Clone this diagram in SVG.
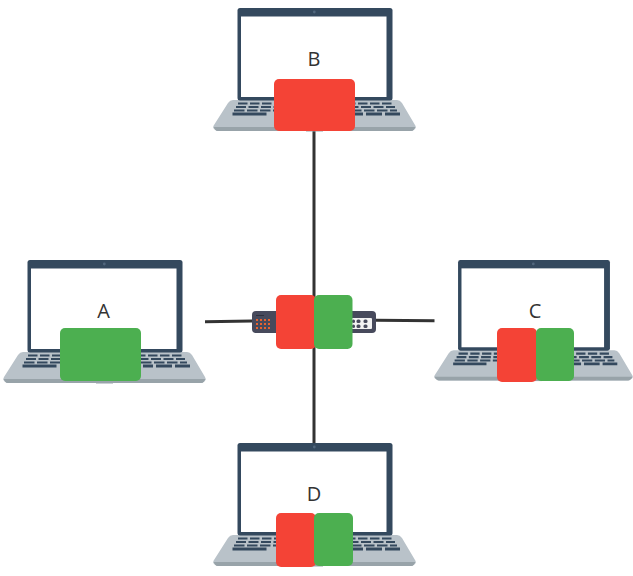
<svg xmlns="http://www.w3.org/2000/svg" width="633" height="576" viewBox="0 0 633 576">
<style>
.lbl{font-family:"Open Sans","Liberation Sans",sans-serif;font-size:20px;fill:#333;text-anchor:middle}
.red{fill:#F44336}.green{fill:#4CAF50}
.wire{fill:none;stroke:#333;stroke-width:3}
.port{fill:#474A5C}
</style>
<defs>
<g id="laptop">
<path d="M233 100H397Q400 100 402 103L415 125Q416.500 127 415 129L412 131H217L214 129Q212.500 127 214 125L228 103Q230 100 233 100Z" fill="#B9C2C9"/>
<path d="M213.500 127H415.500L414 129.500Q413 131 411 131H218Q216 131 215 129.500Z" fill="#98A3A9"/>
<rect x="237.500" y="8" width="155" height="92.500" rx="2.500" fill="#34495E"/>
<rect x="241" y="16.500" width="145.500" height="80.500" fill="#fff"/>
<circle cx="314.300" cy="12" r="1.400" fill="#51677D"/>
<g fill="none" stroke="#34495E" stroke-width="2.200">
<path d="M238 103.500H393" stroke-dasharray="9.500 2.500"/>
<path d="M236 107H395" stroke-dasharray="10 2.500"/>
<path d="M234 110.500H397" stroke-dasharray="10.500 2.500"/>
<path d="M232.500 114H266.500M353 114H363M366 114H382M385 114H400" stroke-width="2.800"/>
</g>
<rect x="306" y="129" width="17" height="2.500" fill="#98A3A9"/>
</g>
</defs>
<g id="connectors">
<path class="wire" d="M205 321.800L252 321"/>
<path class="wire" d="M376 320.200L434.500 320.800"/>
<path class="wire" d="M314 131V443"/>
</g>
<g id="switch">
<rect x="252" y="311" width="124" height="22" rx="4" fill="#474A5C"/>
<path d="M256 315.500H264" stroke="#2E303D" stroke-width="1"/>
<g fill="#E8622F">
<rect x="256" y="319" width="2" height="2"/><rect x="260" y="319" width="2" height="2"/><rect x="264" y="319" width="2" height="2"/><rect x="268" y="319" width="2" height="2"/>
<rect x="256" y="323" width="2" height="2"/><rect x="260" y="323" width="2" height="2"/><rect x="264" y="323" width="2" height="2"/><rect x="268" y="323" width="2" height="2"/>
<rect x="256" y="327" width="2" height="2"/><rect x="260" y="327" width="2" height="2"/><rect x="264" y="327" width="2" height="2"/><rect x="268" y="327" width="2" height="2"/>
</g>
<rect x="350" y="318" width="22" height="11" rx="1" fill="#F2F2F2"/>
<rect class="port" x="352" y="319.500" width="3" height="3.500" rx="1.500"/><rect class="port" x="352" y="324.500" width="3" height="3.500" rx="1.500"/>
<rect class="port" x="356.500" y="319.500" width="4" height="3.500" rx="1.500"/><rect class="port" x="356.500" y="324.500" width="4" height="3.500" rx="1.500"/>
<rect class="port" x="363.500" y="319.500" width="4" height="3.500" rx="1.500"/><rect class="port" x="363.500" y="324.500" width="4" height="3.500" rx="1.500"/>
</g>
<g id="node-b">
<use href="#laptop"/>
<text class="lbl" x="314" y="66">B</text>
<rect class="red" x="274" y="79" width="81" height="52" rx="5"/>
</g>
<g id="node-a">
<use href="#laptop" x="-210" y="252"/>
<text class="lbl" x="103.500" y="318">A</text>
<rect class="green" x="60" y="328" width="81" height="53" rx="5"/>
</g>
<g id="node-c">
<use href="#laptop" transform="translate(225.300 252.200) scale(.98)"/>
<text class="lbl" x="535" y="318">C</text>
<rect class="red" x="497" y="328" width="40" height="54" rx="5"/>
<rect class="green" x="536" y="328" width="38" height="53" rx="5"/>
</g>
<g id="node-d">
<use href="#laptop" y="435"/>
<text class="lbl" x="314" y="501">D</text>
<rect class="red" x="276" y="513" width="40" height="54" rx="5"/>
<rect class="green" x="314" y="513" width="39" height="53" rx="5"/>
</g>
<g id="node-switch-status">
<rect class="red" x="276" y="295" width="40" height="54" rx="5"/>
<rect class="green" x="314" y="295" width="38.500" height="54" rx="5"/>
</g>
</svg>
